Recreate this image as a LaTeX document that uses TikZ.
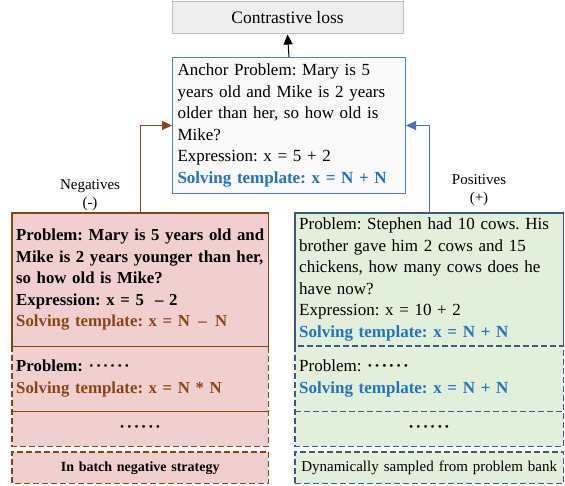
\documentclass[tikz,border=0pt]{standalone}
\usepackage{fontspec}
\setmainfont{Liberation Serif}
\usetikzlibrary{arrows.meta}
\definecolor{brn}{HTML}{8B4513}
\definecolor{tblue}{HTML}{1F74C4}
\definecolor{pinkf}{HTML}{F2CFCF}
\definecolor{greenf}{HTML}{E2EFDA}
\definecolor{slate}{HTML}{3C5A7D}
\definecolor{ablue}{HTML}{4A86C8}
\definecolor{arrblue}{HTML}{4472C4}
\definecolor{lossf}{HTML}{EEEEEE}
\definecolor{lossd}{HTML}{C0C0C0}
\newcommand\mydots{\textbf{·\kern1.5pt·\kern1.5pt·\kern1.5pt·\kern1.5pt·\kern1.5pt·}}
\begin{document}
\frenchspacing
\begin{tikzpicture}[x=1pt,y=1pt,
  box/.style={anchor=north west, inner xsep=4pt, inner ysep=0pt, align=left,
    font=\fontsize{17}{21.5}\selectfont\frenchspacing},
  negbox/.style={box, fill=pinkf, text width=248pt, minimum width=255pt},
  posbox/.style={box, fill=greenf, text width=260pt, minimum width=267pt},
  dsh/.style={dash pattern=on 6pt off 3pt, line width=1.1pt},
  sld/.style={line width=1.1pt},
  lbl/.style={align=center, font=\fontsize{15}{18}\selectfont},
  arr/.style={-{Triangle[length=10pt,width=9pt]}, line width=1pt}]
\useasboundingbox (0,0) rectangle (565,486);

% loss
\node[draw=lossd, fill=lossf, line width=1pt, minimum width=231pt, minimum height=32pt,
  font=\fontsize{17.5}{21}\selectfont] (loss) at (287.5,468) {Contrastive loss};

% anchor
\node[box, draw=ablue, fill=white!98!black, line width=1pt, text width=223pt,
  minimum width=231pt, minimum height=136pt, inner xsep=5pt] (anchor) at (172,429)
  {Anchor Problem: Mary is 5\\years old and Mike is 2 years\\older than her, so how old is\\Mike?\\
   Expression: x = 5 + 2\\\textcolor{tblue}{\textbf{Solving template: x = N + N}}};

% negatives
\node[negbox, minimum height=133pt, font=\fontsize{16.8}{21.5}\selectfont\frenchspacing] (negA) at (12,273)
  {\textbf{Problem: Mary is 5 years old and}\\\textbf{Mike is 2 years younger than her,}\\
   \textbf{so how old is Mike?}\\\textbf{Expression: x = 5 \ –\ 2}\\
   \textcolor{brn}{\textbf{Solving template: x = N \,–\, N}}};
\node[negbox, minimum height=65pt, font=\fontsize{16.8}{21.5}\selectfont\frenchspacing] (negB) at (12,140)
  {\textbf{Problem: }\mydots\\\textcolor{brn}{\textbf{Solving template: x = N * N}}};
\node[negbox, minimum height=35pt, align=center] (negC) at (12,75) {\mydots};
\node[negbox, minimum height=31pt, align=center, font=\fontsize{14}{17}\selectfont\bfseries]
  (negD) at (12,34) {In batch negative strategy};
\draw[brn, dsh] (negB.north west) -- (negC.south west) -- (negC.south east) -- (negB.north east);
\draw[brn, sld] (negA.south west) rectangle (negA.north east);
\draw[brn, sld] (negB.south west) -- (negB.south east);
\draw[brn, dsh] (negD.south west) rectangle (negD.north east);

% positives
\node[posbox, minimum height=133pt] (posA) at (295,273)
  {Problem: Stephen had 10 cows. His\\brother gave him 2 cows and 15\\chickens, how many cows does he\\
   have now?\\Expression: x = 10 + 2\\\textcolor{tblue}{\textbf{Solving template: x = N + N}}};
\node[posbox, minimum height=65pt] (posB) at (295,140)
  {Problem: \mydots\\\textcolor{tblue}{\textbf{Solving template: x = N + N}}};
\node[posbox, minimum height=35pt, align=center] (posC) at (295,75) {\mydots};
\node[posbox, minimum height=31pt, align=center, font=\fontsize{15}{18}\selectfont]
  (posD) at (295,34) {Dynamically sampled from problem bank};
\draw[slate, sld] (posA.south west) -- (posA.north west) -- (posA.north east) -- (posA.south east);
\draw[slate, dsh] (posB.north west) rectangle (posC.south east);
\draw[slate, dsh] (posB.south west) -- (posB.south east);
\draw[slate, dsh] (posD.south west) rectangle (posD.north east);

% connectors
\draw[arr, black] (anchor.north) -- (loss.south);
\coordinate (nstart) at (140,273);
\coordinate (pstart) at (429,273);
\draw[arr, brn] (nstart) |- (anchor.west);
\draw[arr, arrblue] (pstart) |- (anchor.east);

% labels
\node[lbl] (neglbl) at (90,291) {Negatives\\(-)};
\node[lbl] (poslbl) at (479,296) {Positives\\(+)};
\end{tikzpicture}
\end{document}
